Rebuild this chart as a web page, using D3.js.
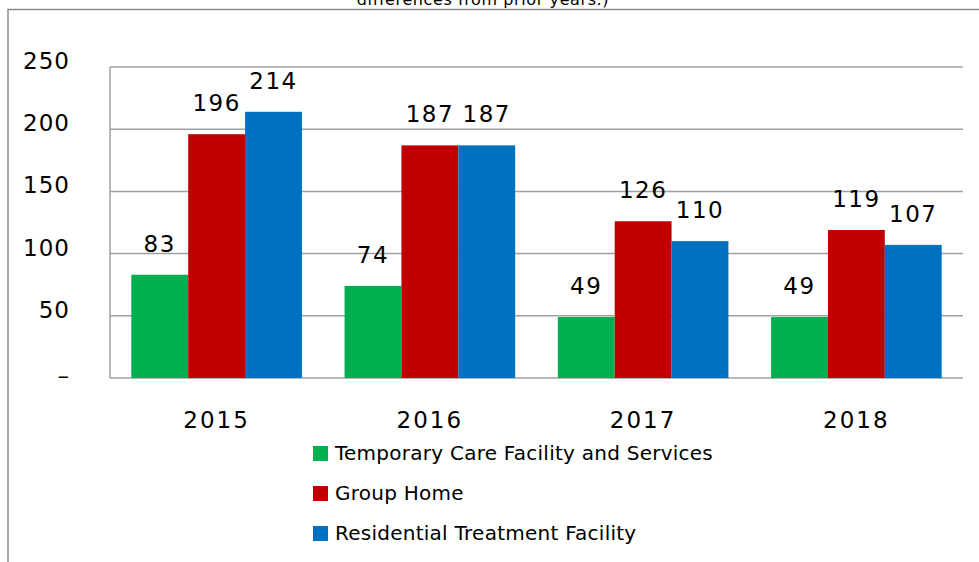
<!DOCTYPE html>
<html>
<head>
<meta charset="utf-8">
<script src="https://cdn.jsdelivr.net/npm/d3@7"></script>
<style>
  body { margin: 0; background: #fff; }
  svg { display: block; font-family: "DejaVu Sans", Verdana, sans-serif; }
</style>
</head>
<body>
<figure id="bar" style="margin:0"></figure>
<script>
const years = ["2015", "2016", "2017", "2018"];
const seriesNames = ["Temporary Care Facility and Services", "Group Home", "Residential Treatment Facility"];
const temporaryCare = [83, 74, 49, 49];
const groupHome = [196, 187, 126, 119];
const residential = [214, 187, 110, 107];
const yTicks = [0, 50, 100, 150, 200, 250];
const colors = ["#00b050", "#c00000", "#0070c0"];

const width = 979, height = 562;
const plot = { left: 110, right: 963, top: 67, bottom: 378 };

const svg = d3.select("figure#bar")
  .append("svg")
  .attr("width", width)
  .attr("height", height);

// title, cut off at the top edge like the original
svg.append("text")
  .attr("x", 483).attr("y", 5)
  .attr("text-anchor", "middle")
  .style("font-size", "16px")
  .style("letter-spacing", "0.6px")
  .text("differences from prior years.)");

svg.append("path")
  .attr("d", `M8,562V9.5H979`)
  .attr("fill", "none")
  .attr("stroke", "#8c8c8c")
  .attr("stroke-width", 1.5);

const x = d3.scaleBand()
  .domain(years)
  .range([plot.left, plot.right])
  .paddingInner(0.2)
  .paddingOuter(0.1);

const x1 = d3.scaleBand()
  .domain(seriesNames)
  .range([0, x.bandwidth()]);

const y = d3.scaleLinear()
  .domain([0, 250])
  .range([plot.bottom, plot.top]);

// gridlines
svg.append("g")
  .selectAll("line")
  .data(yTicks)
  .enter()
  .append("line")
  .attr("x1", plot.left)
  .attr("x2", plot.right)
  .attr("y1", d => y(d))
  .attr("y2", d => y(d))
  .attr("stroke", "#a0a0a0")
  .attr("stroke-width", 1.5);

svg.append("line")
  .attr("x1", plot.left).attr("x2", plot.left)
  .attr("y1", plot.top).attr("y2", plot.bottom)
  .attr("stroke", "#a0a0a0")
  .attr("stroke-width", 1.5);

// y tick labels
svg.append("g")
  .selectAll("text")
  .data(yTicks)
  .enter()
  .append("text")
  .attr("x", 70)
  .attr("y", d => d === 0 ? y(d) + 6 : y(d) + 2)
  .attr("text-anchor", "end")
  .style("font-size", "23px")
  .style("letter-spacing", "1px")
  .text(d => d === 0 ? "–" : d);

// bars
const series = [temporaryCare, groupHome, residential];
const groups = svg.append("g")
  .selectAll("g")
  .data(years)
  .enter()
  .append("g")
  .attr("transform", d => `translate(${x(d)},0)`);

groups.selectAll("rect")
  .data((d, i) => series.map((s, j) => ({ name: seriesNames[j], value: s[i], color: colors[j] })))
  .enter()
  .append("rect")
  .attr("x", d => x1(d.name))
  .attr("y", d => y(d.value))
  .attr("width", x1.bandwidth())
  .attr("height", d => plot.bottom - y(d.value))
  .attr("fill", d => d.color);

groups.selectAll("text")
  .data((d, i) => series.map((s, j) => ({ name: seriesNames[j], value: s[i] })))
  .enter()
  .append("text")
  .attr("x", d => x1(d.name) + x1.bandwidth() / 2)
  .attr("y", d => y(d.value) - 23)
  .attr("text-anchor", "middle")
  .style("font-size", "23px")
  .style("letter-spacing", "1.5px")
  .text(d => d.value);

// category labels
svg.append("g")
  .selectAll("text")
  .data(years)
  .enter()
  .append("text")
  .attr("x", d => x(d) + x.bandwidth() / 2)
  .attr("y", 428)
  .attr("text-anchor", "middle")
  .style("font-size", "23px")
  .style("letter-spacing", "2px")
  .text(d => d);

// legend
const legend = svg.append("g")
  .selectAll("g")
  .data(seriesNames)
  .enter()
  .append("g")
  .attr("transform", (d, i) => `translate(313,${446 + i * 40})`);

legend.append("rect")
  .attr("width", 15).attr("height", 15)
  .attr("fill", (d, i) => colors[i]);

legend.append("text")
  .attr("x", 22).attr("y", 14)
  .style("font-size", "20px")
  .style("letter-spacing", "0.25px")
  .text(d => d);
</script>
</body>
</html>
